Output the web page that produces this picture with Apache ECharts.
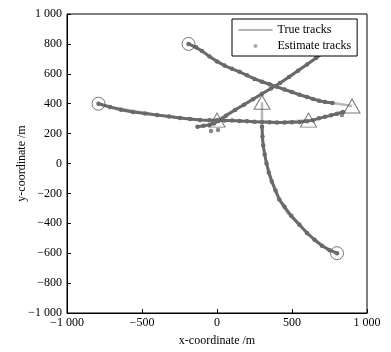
<!DOCTYPE html>
<html>
<head>
<meta charset="utf-8">
<script src="https://cdn.jsdelivr.net/npm/echarts@6/dist/echarts.min.js"></script>
<style>
html, body { margin: 0; padding: 0; background: #fff; }
#chart { width: 391px; height: 352px; }
</style>
</head>
<body>
<div id="chart"></div>
<script>
// tick labels
var xTicks = [-1000, -500, 0, 500, 1000];
var yTicks = [-1000, -800, -600, -400, -200, 0, 200, 400, 600, 800, 1000];

// true tracks (start at triangle, end at circle)
var trueA = [[900, 385], [840, 395], [770, 405], [700, 415], [550, 460], [400, 513], [270, 560], [130, 622], [40, 660], [-110, 758], [-190, 800]];
var trueB = [[300, 410], [300, 245], [305, 150], [318, 60], [340, -30], [370, -130], [415, -240], [470, -330], [550, -415], [630, -490], [700, -550], [800, -600]];
var trueC = [[610, 290], [420, 276], [200, 283], [0, 289], [-113, 291], [-400, 324], [-713, 378], [-790, 400]];
var trueD = [[0, 290], [420, 538], [707, 740], [820, 820]];

// estimated tracks
var estA = [[770, 405], [720, 412], [680, 420], [640, 432], [600, 445], [550, 460], [500, 478], [450, 495], [400, 513], [350, 530], [300, 547], [250, 566], [200, 590], [150, 613], [100, 633], [50, 655], [0, 683], [-50, 715], [-100, 753], [-140, 777], [-190, 800]];
var estB = [[300, 245], [303, 180], [308, 120], [318, 60], [330, 0], [345, -60], [365, -120], [390, -180], [415, -240], [450, -290], [495, -350], [550, -410], [600, -465], [650, -510], [700, -550], [750, -580], [800, -600]];
var estC = [[840, 345], [800, 333], [760, 322], [720, 312], [680, 302], [640, 290], [600, 282], [550, 278], [500, 276], [450, 274], [400, 274], [350, 276], [300, 278], [250, 280], [200, 283], [150, 285], [100, 287], [50, 288], [0, 289], [-50, 290], [-113, 291], [-180, 298], [-247, 304], [-320, 314], [-400, 324], [-480, 334], [-560, 344], [-640, 360], [-713, 378], [-790, 400]];
var estD = [[-130, 245], [-90, 252], [-50, 258], [-20, 268], [10, 285], [60, 320], [120, 358], [180, 393], [240, 430], [300, 466], [360, 502], [420, 538], [480, 578], [540, 620], [600, 662], [660, 705], [710, 742], [760, 780], [820, 820]];
var strayDots = [[-40, 217], [7, 224], [833, 324]];

// start / end markers
var starts = [[900, 385], [300, 410], [610, 290], [0, 290]];
var ends = [[-190, 800], [800, -600], [-790, 400], [820, 820]];

var estColor = '#6a6a6a';
var trueColor = '#b8b8b8';
var font = 'Liberation Serif';

function fmt(v) {
    var a = Math.abs(v);
    var s = a >= 1000 ? Math.floor(a / 1000) + ' ' + String(a % 1000).padStart(3, '0') : String(a);
    return (v < 0 ? '\u2212' : '') + s;
}

function trueSeries(d) {
    return {
        name: 'True tracks', type: 'line', data: d, symbol: 'none', z: 1,
        lineStyle: { color: trueColor, width: 2.5 }, itemStyle: { color: trueColor }
    };
}
function estSeries(d) {
    return {
        name: 'Estimate tracks', type: 'line', data: d, symbol: 'circle', symbolSize: 4.5, z: 2,
        lineStyle: { color: estColor, width: 3 }, itemStyle: { color: estColor }
    };
}

var chart = echarts.init(document.getElementById('chart'));
var option = {
    animation: false,
    textStyle: { fontFamily: font, color: '#000' },
    grid: { left: 67, right: 24, top: 14, bottom: 39, show: true, borderColor: '#000', borderWidth: 1 },
    legend: {
        left: 232, top: 19, orient: 'vertical', itemGap: 4, itemWidth: 34, itemHeight: 4, z: 10,
        backgroundColor: '#fff', borderColor: '#000', borderWidth: 1, padding: [5, 6, 4, 6],
        textStyle: { fontFamily: font, fontSize: 12, color: '#000' },
        data: [
            { name: 'True tracks', itemStyle: { opacity: 0 }, lineStyle: { color: '#666', width: 1 } },
            { name: 'Estimate tracks', icon: 'circle', itemStyle: { color: '#aaa' } }
        ]
    },
    xAxis: {
        type: 'value', min: xTicks[0], max: xTicks[xTicks.length - 1], interval: 500,
        name: 'x-coordinate /m', nameLocation: 'middle', nameGap: 22,
        nameTextStyle: { fontFamily: font, fontSize: 12, color: '#000' },
        axisLine: { onZero: false, lineStyle: { color: '#000' } },
        axisTick: { inside: true, length: 4, lineStyle: { color: '#000' } },
        axisLabel: { formatter: fmt, margin: 4, fontFamily: font, fontSize: 12, color: '#000' },
        splitLine: { show: false }
    },
    yAxis: {
        type: 'value', min: yTicks[0], max: yTicks[yTicks.length - 1], interval: 200,
        name: 'y-coordinate /m', nameLocation: 'middle', nameGap: 39, nameMoveOverlap: false,
        nameTextStyle: { fontFamily: font, fontSize: 12, color: '#000' },
        axisLine: { onZero: false, lineStyle: { color: '#000' } },
        axisTick: { inside: true, length: 4, lineStyle: { color: '#000' } },
        axisLabel: { formatter: fmt, margin: 5, fontFamily: font, fontSize: 12, color: '#000' },
        splitLine: { show: false }
    },
    series: [
        trueSeries(trueA), trueSeries(trueB), trueSeries(trueC), trueSeries(trueD),
        estSeries(estA), estSeries(estB), estSeries(estC), estSeries(estD),
        {
            name: 'Estimate tracks', type: 'scatter', data: strayDots, symbolSize: 4.5, z: 2,
            itemStyle: { color: estColor }
        },
        {
            type: 'scatter', data: starts, symbol: 'triangle', symbolSize: [16, 14], z: 3,
            itemStyle: { color: 'rgba(255,255,255,0)', borderColor: '#555', borderWidth: 1 }
        },
        {
            type: 'scatter', data: ends, symbol: 'circle', symbolSize: 13, z: 3,
            itemStyle: { color: 'rgba(255,255,255,0)', borderColor: '#555', borderWidth: 1 }
        }
    ]
};
chart.setOption(option);
</script>
</body>
</html>
